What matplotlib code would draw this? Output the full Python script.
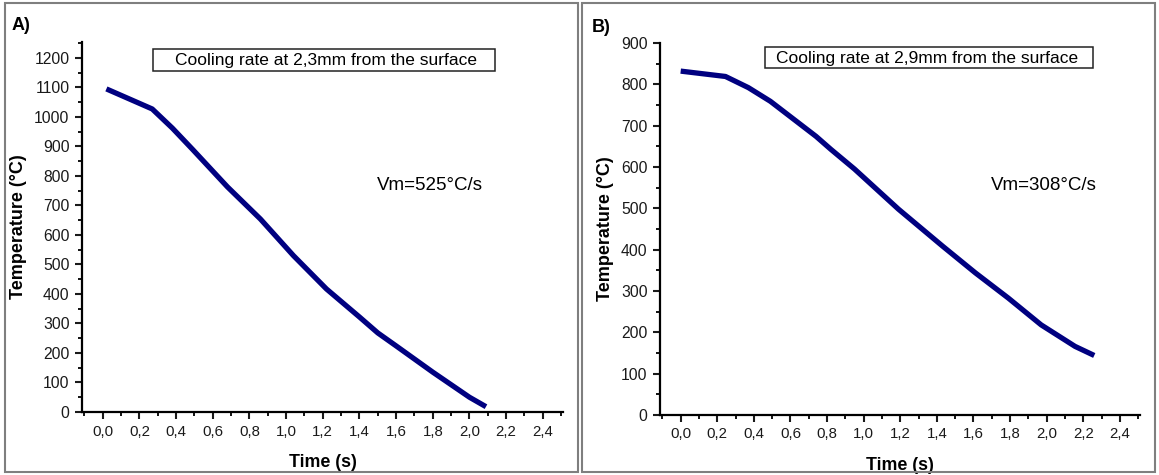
import matplotlib.pyplot as plt
from matplotlib.ticker import MultipleLocator, FuncFormatter
from matplotlib.patches import Rectangle

plt.rcParams['font.family'] = ['Liberation Sans', 'DejaVu Sans']

# panel A : 2,3 mm
time_a = [0.02, 0.27, 0.38, 0.49, 0.68, 0.86, 1.04, 1.22, 1.40, 1.50, 1.60, 1.80, 2.00, 2.09]
temp_a = [1095, 1027, 962, 890, 763, 654, 530, 417, 322, 268, 224, 135, 50, 18]

# panel B : 2,9 mm
time_b = [0.0, 0.245, 0.37, 0.49, 0.74, 0.82, 0.95, 1.19, 1.43, 1.61, 1.79, 1.97, 2.155, 2.26]
temp_b = [832, 819, 792, 759, 674, 643, 595, 498, 409, 344, 283, 218, 166, 144]

titles = ['Cooling rate at 2,3mm from the surface', 'Cooling rate at 2,9mm from the surface']
rates = ['Vm=525°C/s', 'Vm=308°C/s']
letters = ['A)', 'B)']

W, H = 1159, 475
fig = plt.figure(figsize=(W / 100, H / 100), dpi=100)

def px_rect(x0, y0, x1, y1, **kw):
    # rectangle given in image pixels (y from top)
    fig.patches.append(Rectangle((x0 / W, 1 - y1 / H), (x1 - x0) / W, (y1 - y0) / H,
                                 transform=fig.transFigure, fill=False, **kw))

# gray frames around each panel
px_rect(5, 3, 578, 472, edgecolor='#7f7f7f', linewidth=1.5)
px_rect(582, 3, 1155, 472, edgecolor='#7f7f7f', linewidth=1.5)

axA = fig.add_axes([82 / W, 63 / H, 481 / W, 370 / H])
axB = fig.add_axes([660 / W, 60 / H, 480 / W, 372 / H])

comma = FuncFormatter(lambda v, p: ('%.1f' % v).replace('.', ','))

for ax, t, T, ymax in [(axA, time_a, temp_a, 1254), (axB, time_b, temp_b, 900)]:
    ax.plot(t, T, color='#000080', linewidth=3.8, solid_capstyle='butt')
    ax.set_xlim(-0.113, 2.51)
    ax.set_ylim(0, ymax)
    ax.xaxis.set_major_locator(MultipleLocator(0.2))
    ax.xaxis.set_minor_locator(MultipleLocator(0.1))
    ax.xaxis.set_major_formatter(comma)
    ax.yaxis.set_major_locator(MultipleLocator(100))
    ax.yaxis.set_minor_locator(MultipleLocator(50))
    ax.spines['top'].set_visible(False)
    ax.spines['right'].set_visible(False)
    for s in ['left', 'bottom']:
        ax.spines[s].set_linewidth(1.6)
    ax.tick_params(which='major', direction='out', length=5, width=1.5, pad=4, colors='#1a1a1a')
    ax.tick_params(axis='y', labelsize=11.3)
    ax.tick_params(axis='x', labelsize=10.8)
    ax.tick_params(which='minor', direction='out', length=3, width=1.3)
    ax.set_xlabel('Time (s)', fontsize=12.8, fontweight='bold', labelpad=11)
    ax.set_ylabel('Temperature (°C)', fontsize=13, fontweight='bold', labelpad=5)

# boxed titles
px_rect(153, 49, 495, 71, edgecolor='#222222', linewidth=1.1)
px_rect(765, 47, 1093, 68, edgecolor='#222222', linewidth=1.1)
fig.text(326 / W, 1 - 60.5 / H, titles[0], ha='center', va='center', fontsize=12.5)
fig.text(927 / W, 1 - 58 / H, titles[1], ha='center', va='center', fontsize=12.5)

# rate labels and panel letters
fig.text(430 / W, 1 - 186 / H, rates[0], ha='center', va='center', fontsize=13.5)
fig.text(1044 / W, 1 - 185 / H, rates[1], ha='center', va='center', fontsize=13.5)
fig.text(12 / W, 1 - 25 / H, letters[0], ha='left', va='center', fontsize=13, fontweight='bold')
fig.text(592 / W, 1 - 27 / H, letters[1], ha='left', va='center', fontsize=13, fontweight='bold')

fig.savefig('out.png', dpi=100)
